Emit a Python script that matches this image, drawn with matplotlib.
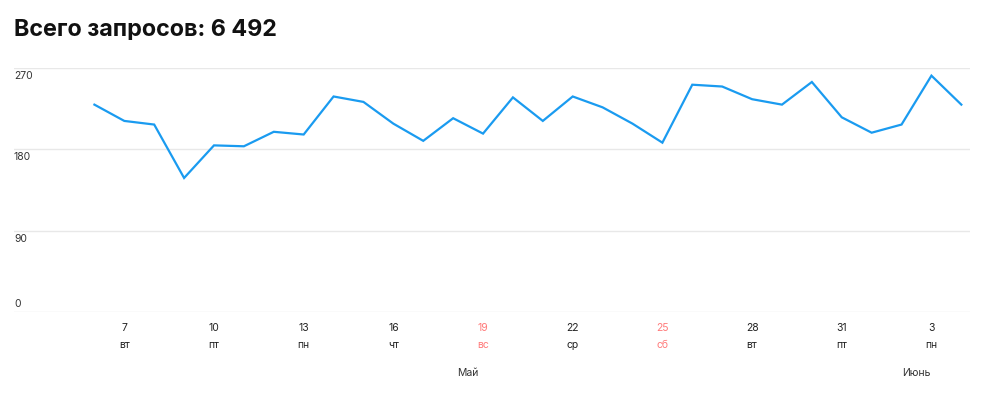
import matplotlib.pyplot as plt
import matplotlib.transforms as mtransforms
import numpy as np

# Data: daily request counts, 6 May - 4 June
dates = ["2024-05-%02d" % d for d in range(6, 32)] + ["2024-06-%02d" % d for d in range(1, 5)]
requests = [229, 211, 207, 148, 184, 183, 199, 196, 238, 232,
            208, 189, 214, 197, 237, 211, 238, 226, 208, 187,
            251, 249, 235, 229, 254, 215, 198, 207, 261, 229]
weekday_names = ["пн", "вт", "ср", "чт", "пт", "сб", "вс"]
month_names = {5: "Май", 6: "Июнь"}
title = "Всего запросов: 6 492"
yticks = [0, 90, 180, 270]

days = np.arange(len(requests))
dts = np.array(dates, dtype="datetime64[D]")

plt.rcParams['font.family'] = ['Inter', 'DejaVu Sans']

fig = plt.figure(figsize=(9.86, 4.0), dpi=100)
ax = fig.add_axes([14 / 986, 0.22, 956 / 986, 0.61125])

ax.plot(days, requests, color='#1a9bf0', linewidth=1.6, solid_joinstyle='miter')
ax.set_xlim(-2.69, 29.29)
ax.set_ylim(0, 270)

for s in ax.spines.values():
    s.set_visible(False)
ax.set_xticks([])
ax.set_yticks([])

# horizontal grid lines + labels
for v in yticks:
    ax.axhline(v, color='#e8e8e8', linewidth=1.0, zorder=0)
    if v == 0:
        ax.annotate(str(v), (0, v), xycoords=('axes fraction', 'data'),
                    xytext=(0, 2.5), textcoords='offset points',
                    ha='left', va='bottom', fontsize=7.5, color='#333333')
    else:
        ax.annotate(str(v), (0, v), xycoords=('axes fraction', 'data'),
                    xytext=(0, -2.5), textcoords='offset points',
                    ha='left', va='top', fontsize=7.5, color='#333333')

# x labels: every 3rd day starting 7 May
trans = mtransforms.blended_transform_factory(ax.transData, ax.transAxes)
for i in range(1, len(days), 3):
    d = dts[i]
    day_num = int(str(d)[8:10])
    wd = (int(d.astype('int64')) + 3) % 7  # 1970-01-01 was Thursday
    color = '#ff7b7b' if wd >= 5 else '#222222'
    ax.text(days[i], -0.065, str(day_num), transform=trans, ha='center', va='center',
            fontsize=7.5, color=color)
    ax.text(days[i], -0.135, weekday_names[wd], transform=trans, ha='center', va='center',
            fontsize=7.5, color=color)

# month labels centered on their span of days
months = np.array([int(str(d)[5:7]) for d in dts])
for m in np.unique(months):
    idx = days[months == m]
    ax.text((idx[0] + idx[-1]) / 2, -0.25, month_names[m], transform=trans,
            ha='center', va='center', fontsize=7.5, color='#333333')

fig.text(14 / 986, 1 - 30 / 400, title, ha='left', va='center',
         fontsize=16.8, fontweight='bold', color='#111111')

fig.savefig('out.png', dpi=100)
